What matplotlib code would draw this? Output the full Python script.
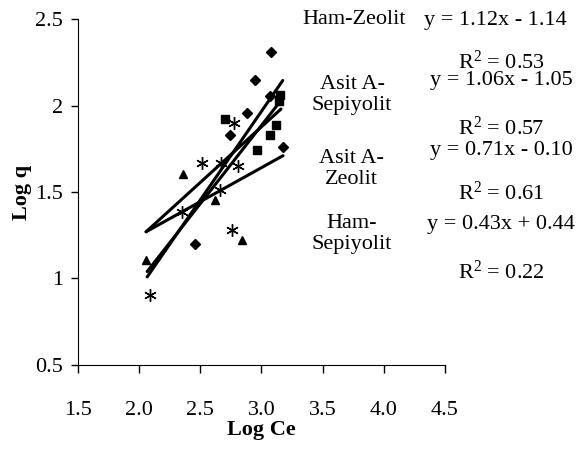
import matplotlib
matplotlib.use("Agg")
import matplotlib.pyplot as plt

plt.rcParams['font.family'] = ['Liberation Serif', 'DejaVu Serif']
plt.rcParams['mathtext.fontset'] = 'custom'
plt.rcParams['mathtext.rm'] = 'Liberation Serif'
plt.rcParams['mathtext.it'] = 'Liberation Serif:italic'

# points (Log Ce, Log q)
diam_x = [3.078, 2.943, 3.070, 2.878, 2.743, 3.176, 2.457]
diam_y = [2.307, 2.145, 2.058, 1.957, 1.832, 1.762, 1.202]

sq_x = [3.152, 3.144, 2.704, 3.117, 3.070, 2.964]
sq_y = [2.061, 2.026, 1.920, 1.887, 1.827, 1.743]

tri_x = [2.361, 2.620, 2.838, 2.056]
tri_y = [1.604, 1.454, 1.225, 1.107]

ast_x = [2.778, 2.511, 2.671, 2.811, 2.759, 2.089, 2.348, 2.661]
ast_y = [1.902, 1.666, 1.668, 1.650, 1.280, 0.905, 1.384, 1.512]

# trend lines, end points
fit_x = [[2.065, 3.174], [2.065, 3.160], [2.056, 3.160], [2.056, 3.176]]
fit_y = [[1.009, 2.145], [1.040, 2.030], [1.270, 1.980], [1.270, 1.710]]

names = ["Ham-Zeolit", "Asit A-\nSepiyolit", "Asit A-\nZeolit", "Ham-\nSepiyolit"]
eqs = ["y = 1.12x - 1.14", "y = 1.06x - 1.05", "y = 0.71x - 0.10", "y = 0.43x + 0.44"]
r2 = ["0.53", "0.57", "0.61", "0.22"]

fig = plt.figure(figsize=(5.83, 4.55), dpi=100)
ax = fig.add_axes([0.134, 0.198, 0.629, 0.760])

for xs, ys in zip(fit_x, fit_y):
    ax.plot(xs, ys, color='black', lw=2.2, solid_capstyle='round', zorder=2)

ax.plot(diam_x, diam_y, 'D', color='black', ms=5.5, ls='none', zorder=3)
ax.plot(sq_x, sq_y, 's', color='black', ms=5.5, ls='none', zorder=3)
ax.plot(tri_x, tri_y, '^', color='black', ms=6, ls='none', zorder=3)
ax.plot(ast_x, ast_y, marker=(6, 2, 0), color='black', ms=9, mew=1.0, ls='none', zorder=3)

ax.set_xlim(1.5, 4.5)
ax.set_ylim(0.5, 2.5)
ax.set_xticks([1.5, 2.0, 2.5, 3.0, 3.5, 4.0, 4.5])
ax.set_xticklabels(["1.5", "2.0", "2.5", "3.0", "3.5", "4.0", "4.5"])
ax.set_yticks([0.5, 1.0, 1.5, 2.0, 2.5])
ax.set_yticklabels(["0.5", "1", "1.5", "2", "2.5"])
ax.spines['top'].set_visible(False)
ax.spines['right'].set_visible(False)
ax.tick_params(axis='x', direction='out', length=6, width=1, labelsize=16, pad=20)
ax.tick_params(axis='y', direction='out', length=5, width=1, labelsize=16, pad=6)
ax.set_xlabel("Log Ce", fontsize=16, fontweight='bold', labelpad=0)
ax.set_ylabel("Log q", fontsize=16, fontweight='bold', labelpad=2)

W, H = 583.0, 455.0
name_pos = [(302, 19, 'left'), (352, 95, 'center'), (351, 169, 'center'), (352, 234, 'center')]
eq_pos = [(424, 20, 'left'), (501, 81, 'center'), (501, 150, 'center'), (501, 225, 'center')]
r2_pos = [62, 128, 193, 272]

for i in range(4):
    px, py, ha = name_pos[i]
    fig.text(px / W, 1 - py / H, names[i], ha=ha, va='center', fontsize=16,
             linespacing=1.15)
    px, py, ha = eq_pos[i]
    fig.text(px / W, 1 - py / H, eqs[i], ha=ha, va='center', fontsize=16)
    fig.text(501 / W, 1 - r2_pos[i] / H, "R$^2$ = " + r2[i], ha='center', va='center',
             fontsize=16)

fig.savefig("out.png", dpi=100)
